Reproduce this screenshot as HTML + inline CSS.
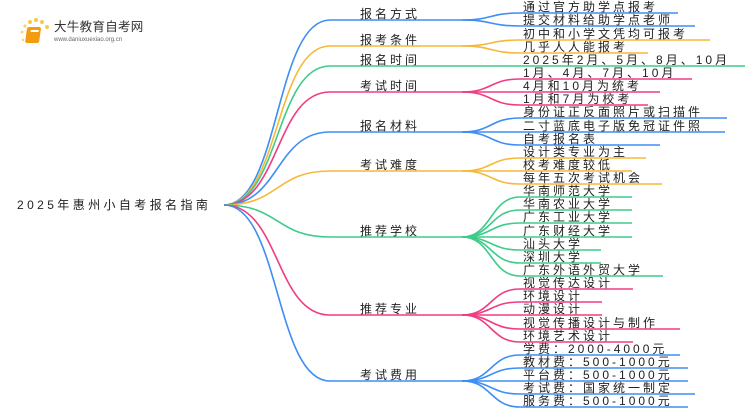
<!DOCTYPE html>
<html><head><meta charset="utf-8"><style>
html,body{margin:0;padding:0;background:#fff;width:750px;height:410px;overflow:hidden}
svg text{font-family:"Liberation Sans","Noto Sans CJK SC",sans-serif;font-size:12px;fill:#222;letter-spacing:3px}
.t{fill:none;stroke-width:1.6}
</style></head><body>
<svg width="750" height="410" viewBox="0 0 750 410" xmlns="http://www.w3.org/2000/svg">
<g>
<circle cx="30" cy="22" r="2" fill="#f7c948"/><circle cx="36" cy="20" r="2" fill="#f7c948"/><circle cx="42" cy="22" r="2" fill="#f7c948"/><circle cx="47" cy="27" r="2" fill="#f7c948"/><circle cx="25" cy="26" r="1.6" fill="#f7d36a"/><circle cx="22" cy="32" r="1.4" fill="#f7d36a"/><circle cx="23" cy="40" r="1.2" fill="#f7d36a"/>
<rect x="31" y="27" width="14" height="16" rx="2" fill="#f39c12" transform="skewX(-8)"/>
<rect x="35" y="30" width="8" height="2" fill="#fff" transform="skewX(-8)"/>
<text x="54" y="31" style="font-size:12.5px;letter-spacing:0.3px;fill:#333">大牛教育自考网</text>
<text x="54" y="41" style="font-size:6px;letter-spacing:0;fill:#666">www.daniuxuexiao.org.cn</text>
</g>
<text x="17" y="209" style="letter-spacing:3.4px">2025年惠州小自考报名指南</text>

<g class="t">
<path d="M224,205 C280,205 275,20 330,20 L462,20" stroke="#3d8ef5"/>
<path d="M224,205 C280,205 275,46 330,46 L462,46" stroke="#f5b83a"/>
<path d="M224,205 C280,205 275,66 330,66 L745,66" stroke="#3ecb8a"/>
<path d="M224,205 C280,205 275,92 330,92 L462,92" stroke="#f03c82"/>
<path d="M224,205 C280,205 275,132 330,132 L462,132" stroke="#3d8ef5"/>
<path d="M224,205 C280,205 275,171 330,171 L462,171" stroke="#f5b83a"/>
<path d="M224,205 C280,205 275,237 330,237 L462,237" stroke="#3ecb8a"/>
<path d="M224,205 C280,205 275,315 330,315 L462,315" stroke="#f03c82"/>
<path d="M224,205 C280,205 275,381 330,381 L462,381" stroke="#3d8ef5"/>
</g>
<text x="360" y="18">报名方式</text>
<text x="360" y="44">报考条件</text>
<text x="360" y="64">报名时间</text>
<text x="360" y="90">考试时间</text>
<text x="360" y="130">报名材料</text>
<text x="360" y="169">考试难度</text>
<text x="360" y="235">推荐学校</text>
<text x="360" y="313">推荐专业</text>
<text x="360" y="379">考试费用</text>

<g class="t" stroke="#3d8ef5">
<path d="M462,20 C492,20 490,13 520,13 L678,13"/>
<path d="M462,20 C492,20 490,26 520,26 L695,26"/>
<path d="M462,132 C492,132 490,118 520,118 L727,118"/>
<path d="M462,132 C492,132 490,132 520,132 L725,132"/>
<path d="M462,132 C492,132 490,145 520,145 L660,145"/>
<path d="M462,381 C492,381 490,355 520,355 L680,355"/>
<path d="M462,381 C492,381 490,368 520,368 L688,368"/>
<path d="M462,381 C492,381 490,381 520,381 L688,381"/>
<path d="M462,381 C492,381 490,394 520,394 L695,394"/>
<path d="M462,381 C492,381 490,407 520,407 L688,407"/>
</g>
<g class="t" stroke="#f5b83a">
<path d="M462,46 C492,46 490,40 520,40 L710,40"/>
<path d="M462,46 C492,46 490,53 520,53 L648,53"/>
<path d="M462,171 C492,171 490,158 520,158 L646,158"/>
<path d="M462,171 C492,171 490,171 520,171 L632,171"/>
<path d="M462,171 C492,171 490,184 520,184 L662,184"/>
</g>
<g class="t" stroke="#f03c82">
<path d="M462,92 C492,92 490,79 520,79 L692,79"/>
<path d="M462,92 C492,92 490,92 520,92 L660,92"/>
<path d="M462,92 C492,92 490,105 520,105 L648,105"/>
<path d="M462,315 C492,315 490,289 520,289 L633,289"/>
<path d="M462,315 C492,315 490,302 520,302 L602,302"/>
<path d="M462,315 C492,315 490,315 520,315 L602,315"/>
<path d="M462,315 C492,315 490,329 520,329 L680,329"/>
<path d="M462,315 C492,315 490,342 520,342 L633,342"/>
</g>
<g class="t" stroke="#3ecb8a">
<path d="M462,237 C492,237 490,197 520,197 L632,197"/>
<path d="M462,237 C492,237 490,210 520,210 L632,210"/>
<path d="M462,237 C492,237 490,223 520,223 L632,223"/>
<path d="M462,237 C492,237 490,237 520,237 L632,237"/>
<path d="M462,237 C492,237 490,250 520,250 L601,250"/>
<path d="M462,237 C492,237 490,263 520,263 L601,263"/>
<path d="M462,237 C492,237 490,276 520,276 L663,276"/>
</g>

<g>
<text x="523" y="11">通过官方助学点报考</text>
<text x="523" y="24">提交材料给助学点老师</text>
<text x="523" y="38">初中和小学文凭均可报考</text>
<text x="523" y="51">几乎人人能报考</text>
<text x="523" y="64">2025年2月、5月、8月、10月</text>
<text x="523" y="77">1月、4月、7月、10月</text>
<text x="523" y="90">4月和10月为统考</text>
<text x="523" y="103">1月和7月为校考</text>
<text x="523" y="116">身份证正反面照片或扫描件</text>
<text x="523" y="130">二寸蓝底电子版免冠证件照</text>
<text x="523" y="143">自考报名表</text>
<text x="523" y="156">设计类专业为主</text>
<text x="523" y="169">校考难度较低</text>
<text x="523" y="182">每年五次考试机会</text>
<text x="523" y="195">华南师范大学</text>
<text x="523" y="208">华南农业大学</text>
<text x="523" y="221">广东工业大学</text>
<text x="523" y="235">广东财经大学</text>
<text x="523" y="248">汕头大学</text>
<text x="523" y="261">深圳大学</text>
<text x="523" y="274">广东外语外贸大学</text>
<text x="523" y="287">视觉传达设计</text>
<text x="523" y="300">环境设计</text>
<text x="523" y="313">动漫设计</text>
<text x="523" y="327">视觉传播设计与制作</text>
<text x="523" y="340">环境艺术设计</text>
<text x="523" y="353">学费：2000-4000元</text>
<text x="523" y="366">教材费：500-1000元</text>
<text x="523" y="379">平台费：500-1000元</text>
<text x="523" y="392">考试费：国家统一制定</text>
<text x="523" y="405">服务费：500-1000元</text>
</g>
</svg>
</body></html>
